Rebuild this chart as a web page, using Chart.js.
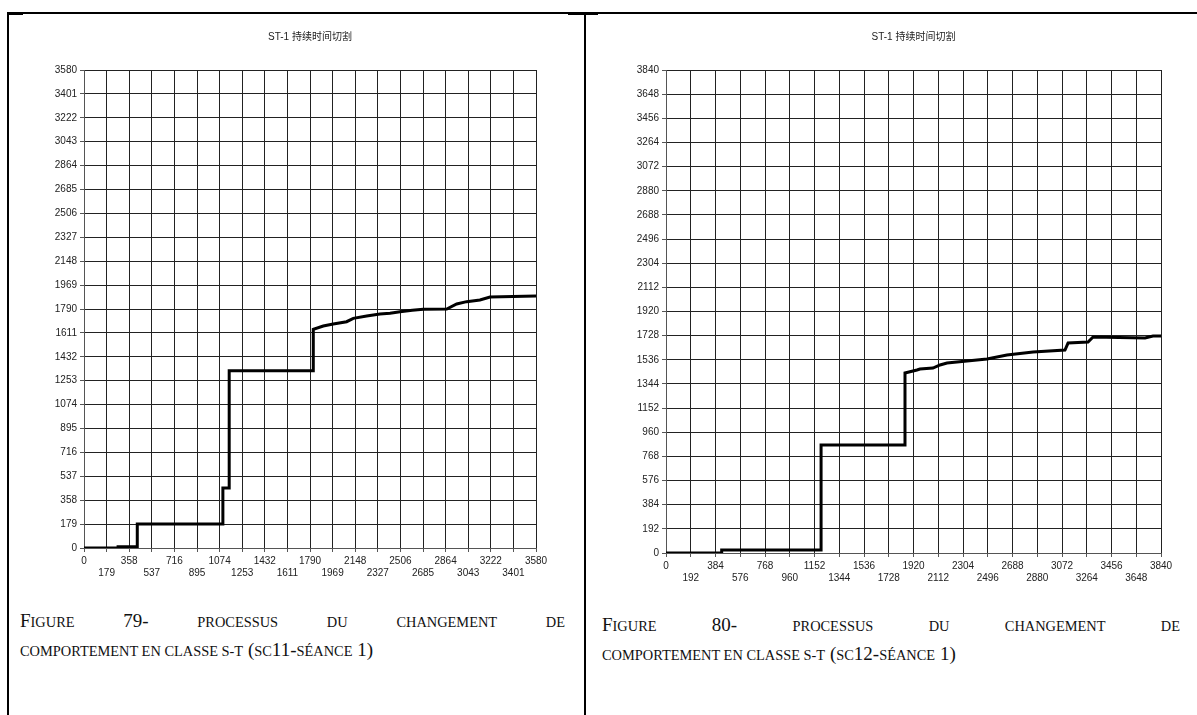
<!DOCTYPE html>
<html>
<head>
<meta charset="utf-8">
<script src="https://cdn.jsdelivr.net/npm/chart.js@4.4.0/dist/chart.umd.min.js"></script>
<style>
  html, body { margin:0; padding:0; background:#fff; }
  body { width:1197px; height:715px; position:relative; overflow:hidden; }
  .ln { position:absolute; background:#000; }
  .cw { position:absolute; }
  .cap { position:absolute; font-family:"Liberation Serif","Times New Roman",serif; font-size:19px; line-height:27px; color:#111; }
  .cap .j { text-align:justify; text-align-last:justify; }
  .cap .s { font-size:14.4px; }
</style>
</head>
<body>
<div class="ln" style="left:7px;top:12px;width:1190px;height:2px"></div>
<div class="ln" style="left:7px;top:12px;width:16px;height:3px"></div>
<div class="ln" style="left:568px;top:12px;width:30px;height:3px"></div>
<div class="ln" style="left:7px;top:12px;width:2px;height:703px"></div>
<div class="ln" style="left:584px;top:12px;width:2px;height:703px"></div>

<div class="cw" style="left:20px;top:20px;width:550px;height:565px"><canvas id="c1" width="550" height="565"></canvas></div>
<div class="cw" style="left:600px;top:20px;width:590px;height:570px"><canvas id="c2" width="590" height="570"></canvas></div>

<div class="cap" style="left:20px;top:607px;width:545px">
  <div class="j">F<span class="s">IGURE</span> 79- <span class="s">PROCESSUS</span> <span class="s">DU</span> <span class="s">CHANGEMENT</span> <span class="s">DE</span></div>
  <div><span class="s">COMPORTEMENT EN CLASSE S-T</span> (<span class="s">SC</span>11-<span class="s">SÉANCE</span> 1)</div>
</div>
<div class="cap" style="left:602px;top:611px;width:578px">
  <div class="j">F<span class="s">IGURE</span> 80- <span class="s">PROCESSUS</span> <span class="s">DU</span> <span class="s">CHANGEMENT</span> <span class="s">DE</span></div>
  <div><span class="s">COMPORTEMENT EN CLASSE S-T</span> (<span class="s">SC</span>12-<span class="s">SÉANCE</span> 1)</div>
</div>

<script>
// ---- data ----
const chartTitle = "ST-1 持续时间切割";

// Figure 79 (SC11)
const ticks1 = [0,179,358,537,716,895,1074,1253,1432,1611,1790,1969,2148,2327,2506,2685,2864,3043,3222,3401,3580];
const xs1 = [0,270,270,422,422,1100,1100,1150,1150,1816,1816,1895,1974,2080,2133,2239,2344,2424,2503,2600,2687,2873,2952,3031,3136,3216,3580];
const ys1 = [0,0,10,10,180,180,450,450,1328,1328,1638,1663,1678,1695,1720,1738,1753,1758,1770,1780,1788,1790,1828,1845,1857,1880,1887];

// Figure 80 (SC12)
const ticks2 = [0,192,384,576,768,960,1152,1344,1536,1728,1920,2112,2304,2496,2688,2880,3072,3264,3456,3648,3840];
const xs2 = [0,427,432,1203,1203,1854,1854,1947,1970,2071,2126,2180,2335,2490,2645,2848,3095,3119,3274,3313,3716,3778,3840];
const ys2 = [0,0,24,24,859,859,1431,1455,1463,1470,1495,1510,1526,1542,1574,1598,1614,1669,1677,1717,1710,1725,1725];

function makeChart(id, xs, ys, ticks, yAxisW, xAxisH, padRight) {
  const pts = xs.map((x, i) => ({ x: x, y: ys[i] }));
  const max = ticks[ticks.length - 1];
  const tickFont = { family: "'Liberation Sans', Arial, sans-serif", size: 10 };
  const grid = {
    color: '#222', lineWidth: 1, borderDash: [4, 2, 1, 2],
    drawTicks: true, tickLength: 4, tickColor: '#555', tickWidth: 1, tickBorderDash: []
  };
  const border = { display: true, color: '#555', width: 1 };
  return new Chart(document.getElementById(id), {
    type: 'line',
    data: { datasets: [{ data: pts, borderColor: '#000', borderWidth: 3, pointRadius: 0, tension: 0, fill: false, borderJoinStyle: 'miter' }] },
    options: {
      responsive: false, animation: false,
      layout: { padding: { left: 0, right: padRight, top: 0, bottom: 0 } },
      plugins: {
        legend: { display: false }, tooltip: { enabled: false },
        title: { display: true, text: chartTitle, color: '#222', fullSize: false,
                 font: { family: "'Liberation Sans','Noto Sans CJK SC',sans-serif", size: 10, weight: 'normal' },
                 padding: { top: 11, bottom: 27 } }
      },
      scales: {
        x: {
          type: 'linear', min: 0, max: max,
          afterBuildTicks: s => { s.ticks = ticks.map(v => ({ value: v })); },
          afterFit: s => { s.height = xAxisH; },
          ticks: { autoSkip: false, maxRotation: 0, minRotation: 0, padding: 3, color: '#222', font: tickFont,
                   callback: (v, i) => (i % 2 === 0 ? String(v) : ['', String(v)]) },
          grid: grid, border: border
        },
        y: {
          type: 'linear', min: 0, max: max,
          afterBuildTicks: s => { s.ticks = ticks.map(v => ({ value: v })); },
          afterFit: s => { s.width = yAxisW; },
          ticks: { autoSkip: false, padding: 3, color: '#222', font: tickFont, callback: v => String(v) },
          grid: grid, border: border
        }
      }
    }
  });
}

makeChart('c1', xs1, ys1, ticks1, 64, 37, 34);
makeChart('c2', xs2, ys2, ticks2, 66, 37, 29);
</script>
</body>
</html>
